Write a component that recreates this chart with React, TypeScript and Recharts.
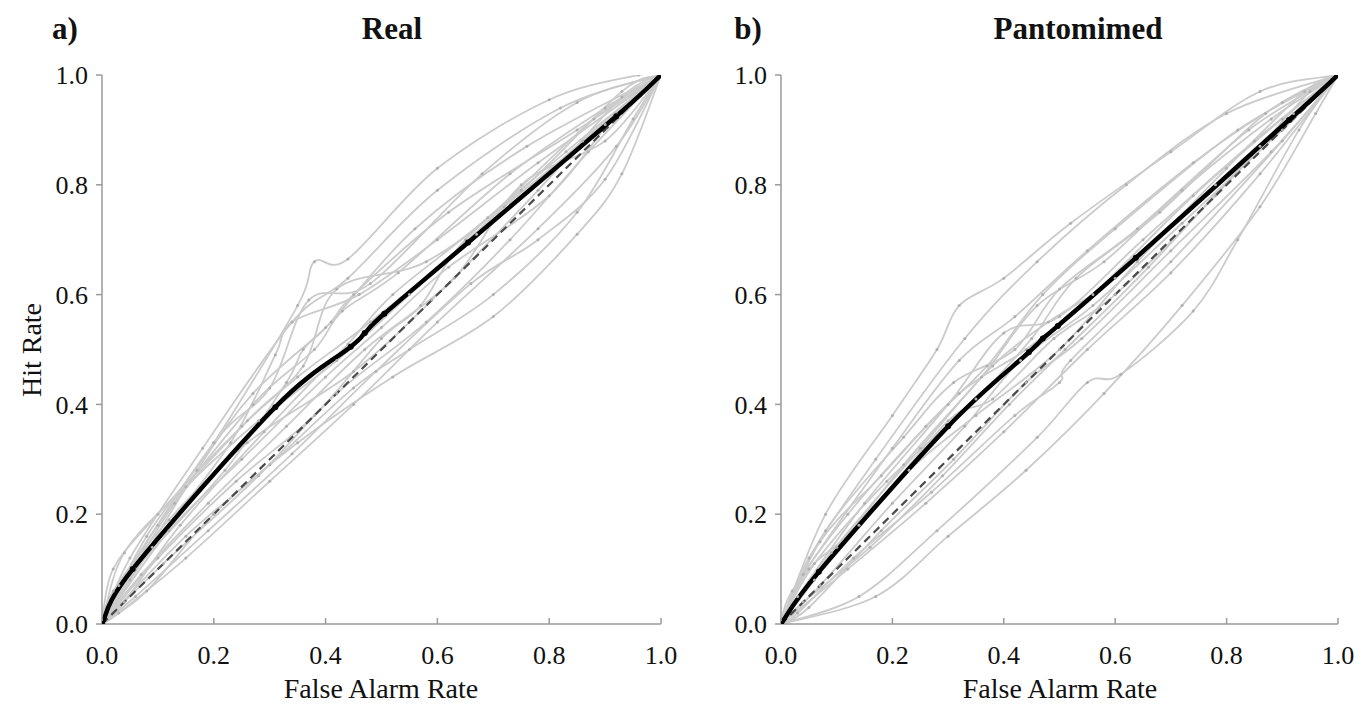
import React from 'react';
import { LineChart, Line, XAxis, YAxis } from 'recharts';

type Pt = [number, number];

const TICKS = [0, 0.2, 0.4, 0.6, 0.8, 1.0];
const DIAGONAL: Pt[] = [[0, 0], [1, 1]];

// group means (false alarm rate, hit rate)
const REAL_MEAN: Pt[] = [
  [0, 0], [0.055, 0.1], [0.31, 0.395], [0.445, 0.505], [0.47, 0.53],
  [0.505, 0.565], [0.655, 0.695], [0.92, 0.925], [1, 1],
];
const PANTO_MEAN: Pt[] = [
  [0, 0], [0.068, 0.095], [0.3, 0.36], [0.445, 0.495], [0.47, 0.52],
  [0.497, 0.543], [0.637, 0.667], [0.912, 0.918], [1, 1],
];

// individual participants
const REAL_SUBJECTS: Pt[][] = [
  [[0, 0], [0.08, 0.16], [0.2, 0.33], [0.35, 0.58], [0.38, 0.66], [0.44, 0.665], [0.6, 0.83], [0.8, 0.955], [0.96, 1.0], [1, 1]],
  [[0, 0], [0.05, 0.12], [0.18, 0.32], [0.34, 0.55], [0.44, 0.63], [0.6, 0.79], [0.82, 0.94], [1, 1]],
  [[0, 0], [0.03, 0.07], [0.2, 0.33], [0.3, 0.43], [0.37, 0.59], [0.48, 0.62], [0.68, 0.82], [0.85, 0.95], [1, 1]],
  [[0, 0], [0.06, 0.1], [0.22, 0.28], [0.33, 0.44], [0.36, 0.5], [0.41, 0.55], [0.56, 0.72], [0.76, 0.87], [1, 1]],
  [[0, 0], [0.1, 0.18], [0.27, 0.4], [0.38, 0.5], [0.43, 0.57], [0.53, 0.64], [0.73, 0.82], [0.9, 0.94], [1, 1]],
  [[0, 0], [0.12, 0.17], [0.25, 0.3], [0.4, 0.45], [0.5, 0.54], [0.62, 0.65], [0.8, 0.78], [0.92, 0.93], [1, 1]],
  [[0, 0], [0.15, 0.16], [0.3, 0.29], [0.45, 0.43], [0.55, 0.5], [0.7, 0.6], [0.85, 0.75], [0.95, 0.92], [1, 1]],
  [[0, 0], [0.08, 0.06], [0.2, 0.2], [0.35, 0.33], [0.52, 0.45], [0.7, 0.56], [0.85, 0.71], [0.93, 0.82], [1, 1]],
  [[0, 0], [0.04, 0.13], [0.15, 0.25], [0.28, 0.37], [0.42, 0.48], [0.55, 0.6], [0.72, 0.76], [0.9, 0.91], [1, 1]],
  [[0, 0], [0.02, 0.06], [0.12, 0.19], [0.26, 0.33], [0.45, 0.46], [0.59, 0.59], [0.78, 0.79], [0.93, 0.96], [1, 1]],
  [[0, 0], [0.07, 0.09], [0.19, 0.22], [0.33, 0.36], [0.47, 0.5], [0.63, 0.63], [0.75, 0.8], [0.9, 0.88], [1, 1]],
  [[0, 0], [0.1, 0.12], [0.24, 0.26], [0.38, 0.38], [0.5, 0.52], [0.57, 0.58], [0.65, 0.7], [0.83, 0.86], [1, 1]],
  [[0, 0], [0.03, 0.02], [0.15, 0.12], [0.3, 0.26], [0.45, 0.4], [0.6, 0.55], [0.78, 0.72], [0.92, 0.87], [1, 1]],
  [[0, 0], [0.05, 0.08], [0.17, 0.28], [0.27, 0.42], [0.4, 0.54], [0.45, 0.6], [0.62, 0.75], [0.85, 0.9], [1, 1]],
  [[0, 0], [0.09, 0.14], [0.23, 0.33], [0.31, 0.49], [0.34, 0.55], [0.46, 0.6], [0.6, 0.7], [0.78, 0.84], [1, 1]],
  [[0, 0], [0.06, 0.05], [0.19, 0.17], [0.34, 0.31], [0.49, 0.46], [0.66, 0.62], [0.78, 0.7], [0.9, 0.81], [1, 1]],
  [[0, 0], [0.11, 0.11], [0.28, 0.27], [0.42, 0.42], [0.58, 0.55], [0.73, 0.7], [0.87, 0.86], [1, 1]],
  [[0, 0], [0.04, 0.04], [0.14, 0.18], [0.29, 0.35], [0.44, 0.51], [0.52, 0.6], [0.69, 0.74], [0.88, 0.92], [1, 1]],
  [[0, 0], [0.02, 0.1], [0.1, 0.2], [0.25, 0.36], [0.35, 0.45], [0.48, 0.55], [0.67, 0.71], [0.86, 0.88], [1, 1]],
  [[0, 0], [0.13, 0.22], [0.26, 0.37], [0.36, 0.47], [0.42, 0.61], [0.58, 0.66], [0.75, 0.79], [0.93, 0.97], [1, 1]],
];

const PANTO_SUBJECTS: Pt[][] = [
  [[0, 0], [0.08, 0.2], [0.2, 0.38], [0.28, 0.5], [0.32, 0.58], [0.4, 0.63], [0.52, 0.73], [0.7, 0.86], [0.86, 0.97], [1, 1]],
  [[0, 0], [0.05, 0.12], [0.17, 0.3], [0.33, 0.52], [0.46, 0.66], [0.62, 0.8], [0.8, 0.93], [1, 1]],
  [[0, 0], [0.04, 0.09], [0.2, 0.32], [0.32, 0.48], [0.42, 0.56], [0.55, 0.68], [0.74, 0.84], [0.9, 0.95], [1, 1]],
  [[0, 0], [0.06, 0.08], [0.22, 0.29], [0.36, 0.45], [0.46, 0.58], [0.58, 0.66], [0.72, 0.79], [0.88, 0.92], [1, 1]],
  [[0, 0], [0.03, 0.05], [0.15, 0.22], [0.3, 0.4], [0.4, 0.53], [0.5, 0.56], [0.65, 0.7], [0.85, 0.88], [1, 1]],
  [[0, 0], [0.09, 0.13], [0.25, 0.32], [0.38, 0.47], [0.48, 0.55], [0.6, 0.63], [0.78, 0.8], [0.92, 0.93], [1, 1]],
  [[0, 0], [0.07, 0.07], [0.2, 0.22], [0.33, 0.36], [0.43, 0.48], [0.56, 0.58], [0.72, 0.73], [0.9, 0.9], [1, 1]],
  [[0, 0], [0.05, 0.03], [0.18, 0.17], [0.31, 0.3], [0.44, 0.44], [0.54, 0.52], [0.7, 0.68], [0.88, 0.86], [1, 1]],
  [[0, 0], [0.12, 0.1], [0.26, 0.22], [0.4, 0.35], [0.55, 0.5], [0.7, 0.64], [0.86, 0.82], [1, 1]],
  [[0, 0], [0.14, 0.05], [0.28, 0.17], [0.46, 0.34], [0.55, 0.44], [0.61, 0.455], [0.74, 0.57], [0.82, 0.7], [0.93, 0.9], [1, 1]],
  [[0, 0], [0.17, 0.05], [0.3, 0.16], [0.44, 0.28], [0.58, 0.42], [0.72, 0.58], [0.86, 0.76], [0.96, 0.93], [1, 1]],
  [[0, 0], [0.02, 0.06], [0.12, 0.2], [0.26, 0.36], [0.37, 0.47], [0.47, 0.6], [0.6, 0.72], [0.82, 0.9], [1, 1]],
  [[0, 0], [0.06, 0.11], [0.19, 0.26], [0.35, 0.41], [0.45, 0.52], [0.53, 0.63], [0.68, 0.75], [0.87, 0.93], [1, 1]],
  [[0, 0], [0.1, 0.14], [0.23, 0.28], [0.35, 0.38], [0.5, 0.5], [0.64, 0.66], [0.8, 0.83], [0.94, 0.97], [1, 1]],
  [[0, 0], [0.04, 0.04], [0.16, 0.14], [0.29, 0.27], [0.41, 0.4], [0.51, 0.5], [0.66, 0.65], [0.86, 0.87], [1, 1]],
  [[0, 0], [0.08, 0.17], [0.22, 0.34], [0.31, 0.44], [0.42, 0.5], [0.5, 0.61], [0.64, 0.72], [0.84, 0.9], [1, 1]],
  [[0, 0], [0.03, 0.02], [0.13, 0.12], [0.27, 0.24], [0.42, 0.38], [0.5, 0.44], [0.52, 0.48], [0.7, 0.66], [0.9, 0.88], [1, 1]],
  [[0, 0], [0.05, 0.1], [0.14, 0.18], [0.3, 0.37], [0.38, 0.41], [0.49, 0.52], [0.6, 0.6], [0.78, 0.78], [0.95, 0.97], [1, 1]],
  [[0, 0], [0.07, 0.15], [0.18, 0.27], [0.32, 0.42], [0.44, 0.5], [0.56, 0.6], [0.74, 0.78], [0.9, 0.92], [1, 1]],
];

const FONT = "'Liberation Serif', 'Times New Roman', Times, serif";
const AXIS_GREY = '#9a9a9a';

const toPts = (c: Pt[]) => c.map(([x, y]) => ({ x, y }));

// spreadsheet-style smoothed line (Catmull-Rom through the points)
function smoothCurve(context: any) {
  let pts: number[][] = [];
  return {
    areaStart() {},
    areaEnd() {},
    lineStart() {
      pts = [];
    },
    point(x: number, y: number) {
      pts.push([+x, +y]);
    },
    lineEnd() {
      if (!pts.length) return;
      context.moveTo(pts[0][0], pts[0][1]);
      for (let i = 0; i < pts.length - 1; i++) {
        const p0 = pts[i - 1] || pts[i];
        const p1 = pts[i];
        const p2 = pts[i + 1];
        const p3 = pts[i + 2] || p2;
        context.bezierCurveTo(
          p1[0] + (p2[0] - p0[0]) / 6,
          p1[1] + (p2[1] - p0[1]) / 6,
          p2[0] - (p3[0] - p1[0]) / 6,
          p2[1] - (p3[1] - p1[1]) / 6,
          p2[0],
          p2[1],
        );
      }
    },
  };
}

interface PanelProps {
  left: number;
  width: number;
  plotLeft: number;
  plotRight: number;
  subjects: Pt[][];
  mean: Pt[];
}

function RocPanel({ left, width, plotLeft, plotRight, subjects, mean }: PanelProps) {
  return (
    <div style={{ position: 'absolute', left, top: 0 }}>
      <LineChart
        width={width}
        height={704}
        margin={{ top: 75, right: width - plotRight, bottom: 30, left: 0 }}
      >
        <XAxis
          dataKey="x"
          type="number"
          domain={[0, 1]}
          ticks={TICKS}
          allowDataOverflow
          tickFormatter={(v: number) => v.toFixed(1)}
          height={50}
          tickSize={-6}
          tickMargin={28}
          stroke={AXIS_GREY}
          strokeWidth={1.5}
          tick={{ fill: '#111', fontSize: 26, fontFamily: FONT }}
        />
        <YAxis
          dataKey="y"
          type="number"
          domain={[0, 1]}
          ticks={TICKS}
          allowDataOverflow
          tickFormatter={(v: number) => v.toFixed(1)}
          width={plotLeft}
          tickSize={6}
          tickMargin={8}
          stroke={AXIS_GREY}
          strokeWidth={1.5}
          tick={{ fill: '#111', fontSize: 26, fontFamily: FONT }}
        />
        {subjects.map((c, i) => (
          <Line
            key={i}
            data={toPts(c)}
            dataKey="y"
            type={smoothCurve as any}
            stroke="#cbcbcb"
            strokeWidth={1.8}
            dot={{ r: 1.5, fill: '#b0b0b0', stroke: 'none' }}
            activeDot={false}
            isAnimationActive={false}
          />
        ))}
        <Line
          data={toPts(DIAGONAL)}
          dataKey="y"
          type="linear"
          stroke="#4a4a4a"
          strokeWidth={2.2}
          strokeDasharray="8 5"
          dot={false}
          activeDot={false}
          isAnimationActive={false}
        />
        <Line
          data={toPts(mean)}
          dataKey="y"
          type={smoothCurve as any}
          stroke="#000"
          strokeWidth={4.5}
          dot={{ r: 3, fill: '#000', stroke: 'none' }}
          activeDot={false}
          isAnimationActive={false}
        />
      </LineChart>
    </div>
  );
}

const textStyle = (x: number, y: number, size: number, bold = false): React.CSSProperties => ({
  position: 'absolute',
  left: x,
  top: y,
  transform: 'translate(-50%, -50%)',
  fontFamily: FONT,
  fontSize: size,
  fontWeight: bold ? 700 : 400,
  lineHeight: 1,
  whiteSpace: 'nowrap',
  color: '#111',
});

export default function App() {
  return (
    <div style={{ position: 'absolute', left: 0, top: 0, width: 1364, height: 704, background: '#fff' }}>
      <RocPanel left={0} width={682} plotLeft={102} plotRight={661} subjects={REAL_SUBJECTS} mean={REAL_MEAN} />
      <RocPanel left={682} width={682} plotLeft={99} plotRight={656} subjects={PANTO_SUBJECTS} mean={PANTO_MEAN} />

      <div style={textStyle(65, 28, 31, true)}>a)</div>
      <div style={textStyle(392, 28, 31, true)}>Real</div>
      <div style={textStyle(748, 28, 31, true)}>b)</div>
      <div style={textStyle(1078, 28, 31, true)}>Pantomimed</div>

      <div style={{ ...textStyle(32, 350, 28), transform: 'translate(-50%, -50%) rotate(-90deg)' }}>Hit Rate</div>
      <div style={textStyle(381, 689, 28)}>False Alarm Rate</div>
      <div style={textStyle(1060, 689, 28)}>False Alarm Rate</div>
    </div>
  );
}
